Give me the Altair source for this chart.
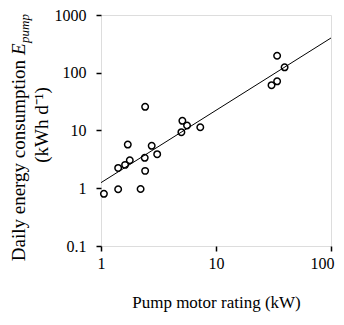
import altair as alt
import pandas as pd

# Data
pump_kw = [1.06, 1.41, 1.41, 1.62, 1.78, 1.71, 2.21, 2.42, 2.40, 2.42, 2.76, 3.08,
           5.0, 5.1, 5.6, 7.3, 30.4, 34.0, 34.0, 39.5]
energy_kwh = [0.80, 0.96, 2.25, 2.54, 3.06, 5.7, 0.97, 2.0, 3.36, 25.7, 5.42, 3.89,
              9.35, 14.7, 12.2, 11.4, 61, 71, 197, 124]
fit_x = [1, 100]
fit_y = [1.25, 400]

x_ticks = [1, 10, 100]
y_ticks = [0.1, 1, 10, 100, 1000]

FONT = "Liberation Serif"

pts = pd.DataFrame({"kw": pump_kw, "e": energy_kwh})
fit = pd.DataFrame({"kw": fit_x, "e": fit_y})

xs = alt.Scale(type="log", domain=[1, 100], nice=False)
ys = alt.Scale(type="log", domain=[0.1, 1000], nice=False)

xax = alt.Axis(values=x_ticks, format="~g", grid=False, domain=False, tickSize=5,
               tickColor="black", tickWidth=1.5, labelFont=FONT, labelFontSize=16,
               labelColor="black", labelPadding=4, title="Pump motor rating (kW)",
               titleFont=FONT, titleFontSize=17, titleFontWeight="normal",
               titleColor="black", titlePadding=23, labelFlush=False,
               labelAlign=alt.condition("datum.value >= 100", alt.value("right"), alt.value("center")),
               labelOffset=alt.condition("datum.value >= 100", alt.value(3), alt.value(0)))
yax = alt.Axis(values=y_ticks, format="~g", grid=False, domain=False, tickSize=5,
               tickColor="black", tickWidth=1.5, labelFont=FONT, labelFontSize=16,
               labelColor="black", labelPadding=10, title="", labelFlush=False)

points = alt.Chart(pts).mark_point(shape="circle", filled=False, color="black",
                                   size=42, strokeWidth=1.5, opacity=1).encode(
    x=alt.X("kw:Q", scale=xs, axis=xax),
    y=alt.Y("e:Q", scale=ys, axis=yax),
)

line = alt.Chart(fit).mark_line(color="black", strokeWidth=1).encode(
    x=alt.X("kw:Q", scale=xs),
    y=alt.Y("e:Q", scale=ys),
)

# y-axis title pieces (rotated)
t1 = alt.Chart(pd.DataFrame({"t": ["Daily energy consumption"]})).mark_text(
    angle=270, align="right", baseline="alphabetic", font=FONT, fontSize=19,
    color="black").encode(text="t:N", x=alt.value(-76), y=alt.value(45))
t2 = alt.Chart(pd.DataFrame({"t": ["E"]})).mark_text(
    angle=270, align="left", baseline="alphabetic", font=FONT, fontSize=19,
    fontStyle="italic", color="black").encode(text="t:N", x=alt.value(-76), y=alt.value(40))
t3 = alt.Chart(pd.DataFrame({"t": ["pump"]})).mark_text(
    angle=270, align="left", baseline="alphabetic", font=FONT, fontSize=13,
    fontStyle="italic", color="black").encode(text="t:N", x=alt.value(-72), y=alt.value(28))
t4 = alt.Chart(pd.DataFrame({"t": ["(kWh d⁻¹)"]})).mark_text(
    angle=270, align="center", baseline="alphabetic", font=FONT, fontSize=19,
    color="black").encode(text="t:N", x=alt.value(-53), y=alt.value(110))

chart = alt.layer(line, points, t1, t2, t3, t4).properties(
    width=230, height=231,
    autosize=alt.AutoSizeParams(type="none"),
    padding={"left": 93, "top": 7, "right": 5, "bottom": 71},
).configure_view(stroke="black", strokeWidth=2).configure(background="white")

chart.save("out.html", embed_options={"renderer": "svg", "actions": False})
